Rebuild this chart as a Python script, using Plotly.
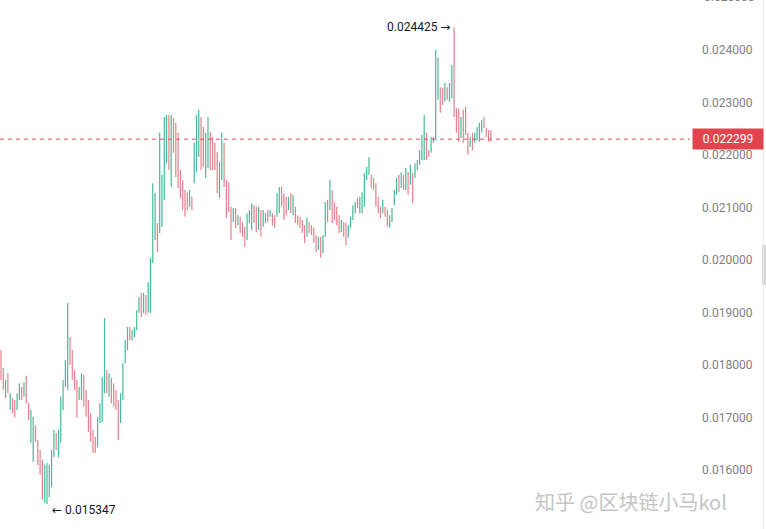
import plotly.graph_objects as go

open_ = [
    0.01820, 0.01790, 0.01742, 0.01780, 0.01718, 0.01733, 0.01728, 0.01718, 0.01737, 0.01755,
    0.01742, 0.01774, 0.01724, 0.01658, 0.01625, 0.01682, 0.01654, 0.01634, 0.01614, 0.01545,
    0.01548, 0.01555, 0.01575, 0.01630, 0.01666, 0.01632, 0.01660, 0.01720, 0.01763, 0.01790,
    0.01850, 0.01822, 0.01786, 0.01765, 0.01736, 0.01738, 0.01776, 0.01748, 0.01728, 0.01704,
    0.01672, 0.01660, 0.01648, 0.01693, 0.01698, 0.01755, 0.01786, 0.01743, 0.01771, 0.01761,
    0.01748, 0.01728, 0.01694, 0.01738, 0.01807, 0.01832, 0.01869, 0.01850, 0.01856, 0.01869,
    0.01902, 0.01933, 0.01902, 0.01930, 0.01903, 0.01905, 0.02000, 0.02045, 0.02066, 0.02060,
    0.02070, 0.02120, 0.02190, 0.02270, 0.02145, 0.02266, 0.02255, 0.02236, 0.02167, 0.02148,
    0.02129, 0.02126, 0.02104, 0.02117, 0.02150, 0.02172, 0.02200, 0.02268, 0.02249, 0.02160,
    0.02180, 0.02240, 0.02230, 0.02219, 0.02200, 0.02122, 0.02157, 0.02219, 0.02148, 0.02144,
    0.02097, 0.02075, 0.02096, 0.02069, 0.02080, 0.02070, 0.02060, 0.02042, 0.02073, 0.02061,
    0.02101, 0.02097, 0.02061, 0.02091, 0.02066, 0.02073, 0.02092, 0.02084, 0.02087, 0.02082,
    0.02085, 0.02093, 0.02136, 0.02123, 0.02117, 0.02098, 0.02124, 0.02088, 0.02098, 0.02083,
    0.02080, 0.02074, 0.02063, 0.02047, 0.02070, 0.02064, 0.02058, 0.02044, 0.02022, 0.02041,
    0.02016, 0.02048, 0.02110, 0.02099, 0.02129, 0.02107, 0.02098, 0.02082, 0.02056, 0.02069,
    0.02067, 0.02045, 0.02064, 0.02079, 0.02092, 0.02116, 0.02092, 0.02093, 0.02105, 0.02156,
    0.02165, 0.02160, 0.02154, 0.02143, 0.02117, 0.02099, 0.02092, 0.02099, 0.02092, 0.02064,
    0.02075, 0.02107, 0.02127, 0.02159, 0.02140, 0.02159, 0.02137, 0.02164, 0.02146, 0.02161,
    0.02159, 0.02174, 0.02184, 0.02194, 0.02196, 0.02238, 0.02207, 0.02207, 0.02225, 0.02232,
    0.02310, 0.02325, 0.02324, 0.02304, 0.02327, 0.02304, 0.02312, 0.02360, 0.02285, 0.02285,
    0.02236, 0.02282, 0.02287, 0.02238, 0.02218, 0.02239, 0.02226, 0.02231, 0.02228, 0.02245,
    0.02270, 0.02249, 0.02245, 0.02240,
]

high = [
    0.01828, 0.01794, 0.01771, 0.01784, 0.01746, 0.01737, 0.01733, 0.01746, 0.01765, 0.01758,
    0.01767, 0.01779, 0.01727, 0.01714, 0.01701, 0.01685, 0.01657, 0.01638, 0.01619, 0.01609,
    0.01613, 0.01609, 0.01638, 0.01676, 0.01670, 0.01676, 0.01739, 0.01771, 0.01809, 0.01918,
    0.01853, 0.01828, 0.01790, 0.01771, 0.01758, 0.01784, 0.01781, 0.01752, 0.01733, 0.01708,
    0.01676, 0.01663, 0.01701, 0.01727, 0.01777, 0.01889, 0.01790, 0.01784, 0.01775, 0.01765,
    0.01752, 0.01733, 0.01746, 0.01803, 0.01847, 0.01872, 0.01872, 0.01866, 0.01872, 0.01904,
    0.01929, 0.01937, 0.01937, 0.01933, 0.01958, 0.02004, 0.02146, 0.02127, 0.02070, 0.02242,
    0.02162, 0.02272, 0.02276, 0.02276, 0.02276, 0.02270, 0.02261, 0.02242, 0.02171, 0.02152,
    0.02133, 0.02129, 0.02133, 0.02120, 0.02223, 0.02276, 0.02286, 0.02272, 0.02253, 0.02242,
    0.02272, 0.02244, 0.02234, 0.02223, 0.02205, 0.02186, 0.02242, 0.02223, 0.02152, 0.02148,
    0.02101, 0.02099, 0.02099, 0.02085, 0.02082, 0.02072, 0.02063, 0.02089, 0.02095, 0.02108,
    0.02104, 0.02101, 0.02101, 0.02095, 0.02095, 0.02089, 0.02095, 0.02095, 0.02089, 0.02085,
    0.02127, 0.02139, 0.02139, 0.02127, 0.02120, 0.02120, 0.02127, 0.02124, 0.02101, 0.02085,
    0.02082, 0.02076, 0.02066, 0.02080, 0.02072, 0.02066, 0.02061, 0.02047, 0.02044, 0.02044,
    0.02047, 0.02110, 0.02114, 0.02152, 0.02133, 0.02110, 0.02101, 0.02085, 0.02076, 0.02072,
    0.02070, 0.02066, 0.02082, 0.02104, 0.02110, 0.02118, 0.02120, 0.02129, 0.02165, 0.02177,
    0.02196, 0.02162, 0.02156, 0.02146, 0.02120, 0.02101, 0.02114, 0.02101, 0.02095, 0.02085,
    0.02099, 0.02133, 0.02156, 0.02162, 0.02167, 0.02162, 0.02175, 0.02167, 0.02181, 0.02165,
    0.02184, 0.02190, 0.02209, 0.02238, 0.02276, 0.02242, 0.02209, 0.02234, 0.02234, 0.02400,
    0.02385, 0.02329, 0.02327, 0.02337, 0.02329, 0.02337, 0.02371, 0.024425, 0.02289, 0.02289,
    0.02272, 0.02286, 0.02291, 0.02242, 0.02234, 0.02242, 0.02242, 0.02253, 0.02261, 0.02266,
    0.02272, 0.02251, 0.02247, 0.02247,
]

low = [
    0.01771, 0.01752, 0.01737, 0.01746, 0.01714, 0.01708, 0.01699, 0.01714, 0.01733, 0.01733,
    0.01739, 0.01727, 0.01695, 0.01651, 0.01615, 0.01653, 0.01609, 0.01590, 0.01543, 0.01537,
    0.015347, 0.01548, 0.01567, 0.01624, 0.01638, 0.01624, 0.01651, 0.01714, 0.01758, 0.01752,
    0.01800, 0.01771, 0.01752, 0.01699, 0.01733, 0.01733, 0.01720, 0.01701, 0.01672, 0.01653,
    0.01632, 0.01632, 0.01643, 0.01689, 0.01691, 0.01746, 0.01746, 0.01739, 0.01727, 0.01720,
    0.01714, 0.01657, 0.01689, 0.01733, 0.01803, 0.01828, 0.01847, 0.01847, 0.01853, 0.01866,
    0.01899, 0.01891, 0.01899, 0.01895, 0.01899, 0.01899, 0.01994, 0.02038, 0.02015, 0.02051,
    0.02063, 0.02114, 0.02184, 0.02171, 0.02139, 0.02204, 0.02158, 0.02137, 0.02118, 0.02095,
    0.02082, 0.02095, 0.02101, 0.02095, 0.02146, 0.02167, 0.02196, 0.02171, 0.02177, 0.02156,
    0.02175, 0.02171, 0.02171, 0.02171, 0.02127, 0.02118, 0.02152, 0.02139, 0.02080, 0.02091,
    0.02038, 0.02072, 0.02061, 0.02066, 0.02051, 0.02044, 0.02025, 0.02038, 0.02070, 0.02057,
    0.02070, 0.02053, 0.02057, 0.02044, 0.02063, 0.02070, 0.02072, 0.02082, 0.02066, 0.02061,
    0.02082, 0.02089, 0.02101, 0.02076, 0.02085, 0.02095, 0.02089, 0.02085, 0.02070, 0.02066,
    0.02061, 0.02051, 0.02032, 0.02044, 0.02051, 0.02047, 0.02032, 0.02015, 0.02019, 0.02004,
    0.02013, 0.02044, 0.02072, 0.02095, 0.02070, 0.02076, 0.02066, 0.02051, 0.02053, 0.02044,
    0.02028, 0.02042, 0.02061, 0.02076, 0.02089, 0.02099, 0.02089, 0.02089, 0.02101, 0.02152,
    0.02162, 0.02137, 0.02133, 0.02101, 0.02089, 0.02080, 0.02089, 0.02082, 0.02063, 0.02061,
    0.02072, 0.02104, 0.02124, 0.02129, 0.02137, 0.02133, 0.02133, 0.02124, 0.02143, 0.02108,
    0.02156, 0.02171, 0.02181, 0.02190, 0.02190, 0.02190, 0.02196, 0.02204, 0.02223, 0.02228,
    0.02305, 0.02280, 0.02295, 0.02301, 0.02305, 0.02301, 0.02308, 0.02272, 0.02242, 0.02225,
    0.02232, 0.02223, 0.02238, 0.02200, 0.02215, 0.02209, 0.02223, 0.02228, 0.02225, 0.02242,
    0.02251, 0.02234, 0.02225, 0.02225,
]

close = [
    0.01778, 0.01758, 0.01767, 0.01750, 0.01742, 0.01712, 0.01703, 0.01742, 0.01761, 0.01737,
    0.01764, 0.01732, 0.01699, 0.01708, 0.01692, 0.01656, 0.01613, 0.01594, 0.01550, 0.01600,
    0.01605, 0.01602, 0.01630, 0.01670, 0.01642, 0.01670, 0.01730, 0.01765, 0.01802, 0.01860,
    0.01805, 0.01776, 0.01756, 0.01705, 0.01755, 0.01780, 0.01725, 0.01705, 0.01676, 0.01657,
    0.01636, 0.01636, 0.01696, 0.01723, 0.01770, 0.01800, 0.01750, 0.01780, 0.01731, 0.01724,
    0.01718, 0.01665, 0.01741, 0.01797, 0.01843, 0.01868, 0.01850, 0.01863, 0.01869, 0.01900,
    0.01926, 0.01895, 0.01933, 0.01898, 0.01953, 0.01995, 0.02135, 0.02120, 0.02020, 0.02230,
    0.02155, 0.02262, 0.02270, 0.02178, 0.02268, 0.02208, 0.02163, 0.02142, 0.02122, 0.02099,
    0.02086, 0.02098, 0.02130, 0.02098, 0.02218, 0.02270, 0.02280, 0.02176, 0.02181, 0.02236,
    0.02266, 0.02175, 0.02175, 0.02175, 0.02132, 0.02181, 0.02236, 0.02143, 0.02084, 0.02095,
    0.02042, 0.02096, 0.02064, 0.02083, 0.02054, 0.02047, 0.02028, 0.02085, 0.02092, 0.02104,
    0.02073, 0.02057, 0.02098, 0.02048, 0.02092, 0.02087, 0.02075, 0.02093, 0.02069, 0.02064,
    0.02123, 0.02135, 0.02104, 0.02080, 0.02088, 0.02117, 0.02092, 0.02120, 0.02073, 0.02069,
    0.02063, 0.02054, 0.02035, 0.02077, 0.02054, 0.02050, 0.02035, 0.02018, 0.02041, 0.02007,
    0.02044, 0.02105, 0.02076, 0.02147, 0.02074, 0.02079, 0.02069, 0.02054, 0.02074, 0.02047,
    0.02031, 0.02063, 0.02080, 0.02101, 0.02108, 0.02101, 0.02117, 0.02125, 0.02160, 0.02174,
    0.02193, 0.02140, 0.02136, 0.02104, 0.02092, 0.02083, 0.02111, 0.02084, 0.02066, 0.02082,
    0.02096, 0.02130, 0.02153, 0.02132, 0.02164, 0.02136, 0.02171, 0.02127, 0.02178, 0.02112,
    0.02181, 0.02188, 0.02206, 0.02234, 0.02268, 0.02194, 0.02198, 0.02231, 0.02232, 0.02380,
    0.02378, 0.02284, 0.02298, 0.02334, 0.02307, 0.02334, 0.02366, 0.02280, 0.02246, 0.02229,
    0.02268, 0.02227, 0.02242, 0.02204, 0.02232, 0.02212, 0.02240, 0.02250, 0.02258, 0.02263,
    0.02254, 0.02237, 0.02230, 0.022299,
]

tick_vals = [0.015, 0.016, 0.017, 0.018, 0.019, 0.020, 0.021, 0.022, 0.023, 0.024]
tick_text = ["0.015000", "0.016000", "0.017000", "0.018000", "0.019000",
             "0.020000", "0.021000", "0.022000", "0.023000", "0.024000"]

last_price = close[-1]
max_high = max(high)
min_low = min(low)
i_high = high.index(max_high)
i_low = low.index(min_low)

n = len(close)
xs = list(range(n))

UP = "#45b99b"
DOWN = "#e5808b"
FONT = "Roboto, Arial, sans-serif"
TICK_COLOR = "#808080"
ARROW = "<span style='font-family:DejaVu Sans'>{}</span>"

fig = go.Figure()
fig.add_trace(go.Ohlc(
    x=xs, open=open_, high=high, low=low, close=close,
    increasing=dict(line=dict(color=UP, width=1.2)),
    decreasing=dict(line=dict(color=DOWN, width=1.2)),
    tickwidth=0, hoverinfo="none", showlegend=False,
))

W, H = 766, 529
plot_w = 690
fig.update_layout(
    width=W, height=H,
    margin=dict(l=0, r=W - plot_w, t=0, b=0),
    paper_bgcolor="white", plot_bgcolor="white",
    showlegend=False,
    xaxis=dict(visible=False, range=[-0.43, 299.57], rangeslider=dict(visible=False),
               fixedrange=True),
    yaxis=dict(side="right", range=[0.014873, 0.02495], tickvals=tick_vals, ticktext=tick_text,
               showgrid=False, zeroline=False, showline=False, ticks="",
               ticklabelstandoff=11,
               tickfont=dict(family=FONT, size=12, color=TICK_COLOR)),
    font=dict(family=FONT),
)

# current price dashed line
fig.add_shape(type="line", xref="paper", yref="y", x0=0, x1=1, y0=last_price, y1=last_price,
              line=dict(color="#e0505c", width=1, dash="4px,4px"))

# current price label
fig.add_annotation(xref="paper", yref="y", x=692 / plot_w, y=last_price, xanchor="left",
                   yanchor="middle", text="0.022299", showarrow=False,
                   font=dict(family=FONT, size=12, color="white"),
                   bgcolor="#e2444f", borderpad=4, width=62, height=12, align="center")
fig.add_shape(type="line", xref="paper", yref="y", x0=693 / plot_w, x1=697 / plot_w,
              y0=last_price, y1=last_price, line=dict(color="white", width=1))

# partially visible top tick label
fig.add_annotation(xref="paper", yref="paper", x=702 / plot_w, y=1 + 3 / H, xanchor="left",
                   yanchor="middle", text="0.025000", showarrow=False,
                   font=dict(family=FONT, size=12, color=TICK_COLOR))

# high / low markers
fig.add_annotation(x=xs[i_high], y=max_high, xref="x", yref="y", xanchor="right",
                   yanchor="middle", xshift=-2, yshift=1, showarrow=False,
                   text="0.024425 " + ARROW.format("→"),
                   font=dict(family=FONT, size=12, color="#131722"))
fig.add_annotation(x=xs[i_low], y=min_low, xref="x", yref="y", xanchor="left",
                   yanchor="middle", xshift=3, yshift=-6, showarrow=False,
                   text=ARROW.format("←") + " 0.015347",
                   font=dict(family=FONT, size=12, color="#131722"))

# watermark
fig.add_annotation(xref="paper", yref="paper", x=533 / plot_w, y=1 - 501 / H, xanchor="left",
                   yanchor="middle", text="知乎 @区块链小马kol", showarrow=False,
                   font=dict(family="Noto Sans CJK SC", size=20, color="#c4c4c4"))

# right-edge scroll handle and border
fig.add_shape(type="rect", xref="paper", yref="paper", x0=762 / plot_w, x1=767 / plot_w,
              y0=1 - 285 / H, y1=1 - 245 / H, fillcolor="#d6d6d6", line=dict(width=0))
fig.add_shape(type="line", xref="paper", yref="paper", x0=763.5 / plot_w, x1=763.5 / plot_w,
              y0=0, y1=1, line=dict(color="#ececec", width=1))

fig.write_html("out.html", config={"displayModeBar": False},
               post_script="document.body.style.margin='0px';document.body.style.overflow='hidden';")
